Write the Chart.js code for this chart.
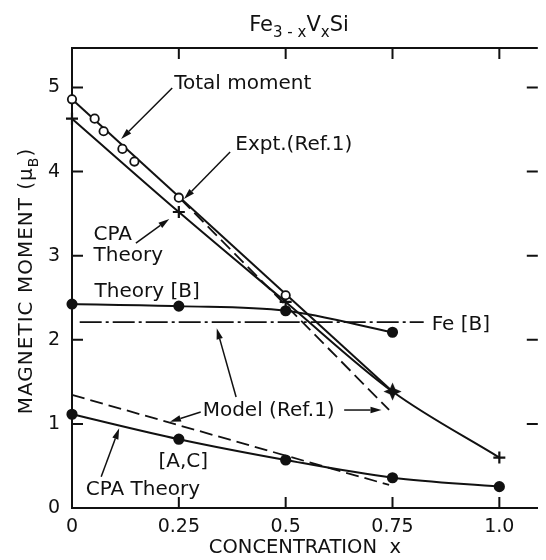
<!DOCTYPE html>
<html>
<head>
<meta charset="utf-8">
<script src="https://cdn.jsdelivr.net/npm/chart.js@4.4.1/dist/chart.umd.min.js"></script>
<style>
  html, body { margin: 0; padding: 0; background: #fff; overflow: hidden; }
  canvas { display: block; }
</style>
</head>
<body>
<canvas id="c" width="546" height="560"></canvas>
<script>
// Magnetic moment of Fe(3-x)V(x)Si versus V concentration x.

// Experimental total moment (open circles)
const exptX      = [0, 0.053, 0.074, 0.118, 0.146, 0.25, 0.5];
const exptMoment = [4.86, 4.63, 4.48, 4.27, 4.12, 3.69, 2.53];

// Straight line through the experimental points
const totalLineX = [0, 0.75];
const totalLine  = [4.86, 1.385];

// CPA theory, total moment (crosses)
const cpaTotalX = [0, 0.25, 0.5, 0.75, 1.0];
const cpaTotal  = [4.63, 3.52, 2.45, 1.385, 0.60];

// CPA theory, Fe moment on B sites (filled dots)
const theoryBX = [0, 0.25, 0.5, 0.75];
const theoryB  = [2.425, 2.40, 2.345, 2.09];

// CPA theory, Fe moment on A,C sites (filled dots)
const cpaACX = [0, 0.25, 0.5, 0.75, 1.0];
const cpaAC  = [1.115, 0.818, 0.571, 0.36, 0.254];

// Model (Ref. 1): total moment and A,C-site moment
const modelTotalX = [0.255, 0.742];
const modelTotal  = [3.67, 1.167];
const modelACX    = [0, 0.742];
const modelAC     = [1.345, 0.274];

// Fe moment on B sites (constant)
const feBX = [0.018, 0.823];
const feB  = [2.21, 2.21];

// Axis ticks
const xTickValues = [0, 0.25, 0.5, 0.75, 1.0];
const xTickLabels = ['0', '0.25', '0.5', '0.75', '1.0'];
const yTickValues = [0, 1, 2, 3, 4, 5];
const yTickLabels = ['0', '1', '2', '3', '4', '5'];

const FONT = '"DejaVu Sans", sans-serif';
const INK = '#111';

const pts = (xs, ys) => xs.map((x, i) => ({ x, y: ys[i] }));

// Text labels and arrows, placed in data coordinates
const notes = [
  { text: 'Total moment',  x: 0.239,  y: 5.04 },
  { text: 'Expt.(Ref.1)',  x: 0.382,  y: 4.316 },
  { text: 'CPA',           x: 0.0506, y: 3.246 },
  { text: 'Theory',        x: 0.0506, y: 3.0 },
  { text: 'Theory [B]',    x: 0.0529, y: 2.572 },
  { text: 'Fe [B]',        x: 0.8416, y: 2.176 },
  { text: 'Model (Ref.1)', x: 0.3058, y: 1.153 },
  { text: '[A,C]',         x: 0.2023, y: 0.5505 },
  { text: 'CPA Theory',    x: 0.0322, y: 0.214 }
];
const arrows = [
  { from: [0.2345, 4.994], to: [0.115, 4.388] },
  { from: [0.370, 4.233],  to: [0.262, 3.674] },
  { from: [0.1495, 3.151], to: [0.2276, 3.436] },
  { from: [0.3012, 1.141], to: [0.2292, 1.026] },
  { from: [0.6369, 1.165], to: [0.7243, 1.165] },
  { from: [0.384, 1.32],   to: [0.3387, 2.137] },
  { from: [0.0683, 0.372], to: [0.1104, 0.948] }
];

// Four-pointed star marker where the total-moment curves meet
const starMark = (() => {
  const c = document.createElement('canvas');
  c.width = 19; c.height = 19;
  const g = c.getContext('2d');
  const m = 9.5, R = 9, r = 3.8;
  g.fillStyle = INK;
  g.beginPath();
  for (let i = 0; i < 8; i++) {
    const a = -Math.PI / 2 + i * Math.PI / 4;
    const rr = i % 2 === 0 ? R : r;
    const px = m + rr * Math.cos(a), py = m + rr * Math.sin(a);
    i === 0 ? g.moveTo(px, py) : g.lineTo(px, py);
  }
  g.closePath();
  g.fill();
  g.beginPath();
  g.arc(m, m, 3.6, 0, Math.PI * 2);
  g.fill();
  return c;
})();

// Draws a run of text pieces, some of them as subscripts.
function drawRich(ctx, parts, x, y, size, align) {
  const sub = Math.round(size * 0.72);
  const widths = parts.map(([t, s]) => {
    ctx.font = (s ? sub : size) + 'px ' + FONT;
    return ctx.measureText(t).width;
  });
  const total = widths.reduce((a, b) => a + b, 0);
  let cx = align === 'center' ? x - total / 2 : x;
  parts.forEach(([t, s], i) => {
    ctx.font = (s ? sub : size) + 'px ' + FONT;
    ctx.fillText(t, cx, s ? y + size * 0.3 : y);
    cx += widths[i];
  });
}

const framePlugin = {
  id: 'frame',
  afterDraw(chart) {
    const { ctx, chartArea: a, scales: { x, y } } = chart;
    const tick = 11;
    ctx.save();
    ctx.strokeStyle = INK;
    ctx.lineWidth = 2;
    ctx.beginPath();
    // top edge
    ctx.moveTo(a.left - 1, a.top);
    ctx.lineTo(a.right, a.top);
    // inward ticks on x (bottom and top)
    xTickValues.forEach(v => {
      if (v === 0) return;
      const px = x.getPixelForValue(v);
      ctx.moveTo(px, a.bottom); ctx.lineTo(px, a.bottom - tick);
      ctx.moveTo(px, a.top);    ctx.lineTo(px, a.top + tick);
    });
    // inward ticks on y (left and right)
    yTickValues.forEach(v => {
      if (v === 0) return;
      const py = y.getPixelForValue(v);
      ctx.moveTo(a.left, py);  ctx.lineTo(a.left + tick, py);
      ctx.moveTo(a.right, py); ctx.lineTo(a.right - tick, py);
    });
    ctx.stroke();
    ctx.restore();
  },
  afterDatasetsDraw(chart) {
    const { ctx, scales: { x, y } } = chart;
    ctx.save();
    ctx.fillStyle = INK;
    ctx.strokeStyle = INK;
    ctx.textBaseline = 'middle';
    ctx.textAlign = 'left';
    ctx.font = '20px ' + FONT;
    notes.forEach(n => ctx.fillText(n.text, x.getPixelForValue(n.x), y.getPixelForValue(n.y)));

    ctx.lineWidth = 1.5;
    arrows.forEach(ar => {
      const x0 = x.getPixelForValue(ar.from[0]), y0 = y.getPixelForValue(ar.from[1]);
      const x1 = x.getPixelForValue(ar.to[0]),   y1 = y.getPixelForValue(ar.to[1]);
      const ang = Math.atan2(y1 - y0, x1 - x0);
      const len = 11, half = 3.2;
      const bx = x1 - len * Math.cos(ang), by = y1 - len * Math.sin(ang);
      ctx.beginPath();
      ctx.moveTo(x0, y0);
      ctx.lineTo(bx, by);
      ctx.stroke();
      ctx.beginPath();
      ctx.moveTo(x1, y1);
      ctx.lineTo(bx + half * Math.sin(ang), by - half * Math.cos(ang));
      ctx.lineTo(bx - half * Math.sin(ang), by + half * Math.cos(ang));
      ctx.closePath();
      ctx.fill();
    });

    // chart title with subscripts
    ctx.textBaseline = 'alphabetic';
    drawRich(ctx, [['Fe', 0], ['3 - x', 1], ['V', 0], ['x', 1], ['Si', 0]], 299, 31, 21, 'center');

    // y-axis title
    ctx.save();
    ctx.translate(24, 281);
    ctx.rotate(-Math.PI / 2);
    try { ctx.letterSpacing = '1px'; } catch (e) {}
    drawRich(ctx, [['MAGNETIC MOMENT (', 0], ['\u03bc', 0], ['B', 1], [')', 0]], 0, 8, 20, 'center');
    ctx.restore();
    ctx.restore();
  }
};

const lineBase = { showLine: true, borderColor: INK, fill: false, clip: false, pointRadius: 0 };

new Chart(document.getElementById('c'), {
  type: 'scatter',
  data: {
    datasets: [
      { label: 'Expt. (Ref. 1)', data: pts(exptX, exptMoment), showLine: false, clip: false,
        pointStyle: 'circle', pointRadius: 4.2, pointBackgroundColor: '#fff',
        pointBorderColor: INK, pointBorderWidth: 1.8 },
      { ...lineBase, label: 'CPA theory (total)', data: pts(cpaTotalX, cpaTotal), borderWidth: 2,
        cubicInterpolationMode: 'monotone',
        pointStyle: ['cross', 'cross', 'cross', starMark, 'cross'],
        pointRadius: 6, pointBorderWidth: 2.2,
        pointBorderColor: INK, pointBackgroundColor: INK },
      { ...lineBase, label: 'Theory [B]', data: pts(theoryBX, theoryB), borderWidth: 1.9,
        cubicInterpolationMode: 'monotone',
        pointStyle: 'circle', pointRadius: 4.6, pointBackgroundColor: INK, pointBorderColor: INK },
      { ...lineBase, label: 'CPA theory [A,C]', data: pts(cpaACX, cpaAC), borderWidth: 2,
        cubicInterpolationMode: 'monotone',
        pointStyle: 'circle', pointRadius: 4.6, pointBackgroundColor: INK, pointBorderColor: INK },
      { ...lineBase, label: 'Total moment', data: pts(totalLineX, totalLine), borderWidth: 2 },
      { ...lineBase, label: 'Model (Ref. 1), total', data: pts(modelTotalX, modelTotal),
        borderWidth: 1.8, borderDash: [13, 6] },
      { ...lineBase, label: 'Model (Ref. 1), [A,C]', data: pts(modelACX, modelAC),
        borderWidth: 1.8, borderDash: [13, 6] },
      { ...lineBase, label: 'Fe [B]', data: pts(feBX, feB),
        borderWidth: 1.8, borderDash: [22, 4, 3, 4] }
    ]
  },
  options: {
    responsive: false,
    devicePixelRatio: 1,
    animation: false,
    events: [],
    layout: { padding: { top: 48, right: 0, left: 0, bottom: 0 } },
    plugins: { legend: { display: false }, tooltip: { enabled: false }, title: { display: false } },
    scales: {
      x: {
        type: 'linear', min: 0, max: 1.09,
        grid: { display: false, drawTicks: false },
        border: { display: true, color: INK, width: 2 },
        afterBuildTicks: s => { s.ticks = xTickValues.map(v => ({ value: v })); },
        afterFit: s => { s.height = 52; },
        ticks: {
          color: INK, padding: 8, maxRotation: 0, autoSkip: false,
          font: { family: FONT, size: 19 },
          callback: (v) => xTickLabels[xTickValues.indexOf(v)]
        },
        title: {
          display: true, text: 'CONCENTRATION  x', color: INK,
          font: { family: FONT, size: 19.5 }, padding: { top: 0, bottom: 0 }
        }
      },
      y: {
        type: 'linear', min: 0, max: 5.47,
        grid: { display: false, drawTicks: false },
        border: { display: true, color: INK, width: 2 },
        afterBuildTicks: s => { s.ticks = yTickValues.map(v => ({ value: v })); },
        afterFit: s => { s.width = 72; },
        ticks: {
          color: INK, padding: 12,
          font: { family: FONT, size: 19 },
          callback: (v) => yTickLabels[yTickValues.indexOf(v)]
        }
      }
    }
  },
  plugins: [framePlugin]
});
</script>
</body>
</html>
